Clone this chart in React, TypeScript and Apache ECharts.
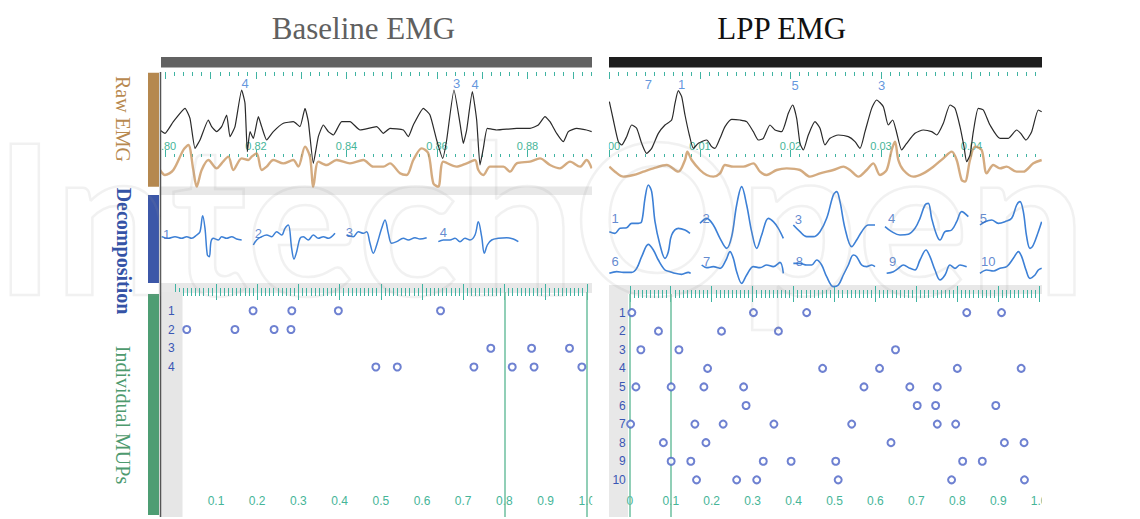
import { useEffect, useRef } from "react";
import * as echarts from "echarts";

// ---------- tick labels ----------
const baselineTimeLabels = [0.8, 0.82, 0.84, 0.86, 0.88];
const lppTimeLabels = [0.0, 0.01, 0.02, 0.03, 0.04];
const mupTimeLabels = ["0", "0.1", "0.2", "0.3", "0.4", "0.5", "0.6", "0.7", "0.8", "0.9", "1.0"];
const baselineMupIds = ["1", "2", "3", "4"];
const lppMupIds = ["1", "2", "3", "4", "5", "6", "7", "8", "9", "10"];

// ---------- raw EMG traces: [sample, deflection] (deflection grows downward) ----------
const baselineRawBlack = [[30,210],[45,220],[70,185],[105,145],[120,175],[135,265],[150,240],[175,180],[185,200],[200,215],[215,200],[230,165],[240,230],[255,200],[275,90],[285,130],[292,275],[300,215],[310,235],[325,170],[335,200],[350,240],[370,215],[400,190],[430,185],[450,200],[465,145],[475,185],[490,310],[505,230],[520,195],[535,215],[550,225],[575,185],[600,185],[630,210],[680,200],[700,220],[720,205],[760,210],[775,230],[790,195],[820,145],[840,165],[860,240],[878,295],[890,240],[912,90],[930,190],[940,250],[950,210],[967,95],[980,180],[990,315],[1000,265],[1012,205],[1040,210],[1100,205],[1140,205],[1165,195],[1185,170],[1200,185],[1220,220],[1240,245],[1255,215],[1280,205],[1310,210],[1325,215]];
const baselineRawTan = [[30,330],[45,345],[70,330],[100,270],[115,255],[130,330],[140,380],[155,330],[175,300],[200,325],[215,310],[235,290],[250,330],[275,295],[295,300],[305,290],[320,280],[335,330],[350,320],[370,300],[400,310],[430,300],[445,320],[465,260],[480,290],[490,380],[505,305],[530,315],[560,300],[600,310],[640,300],[670,320],[700,320],[720,310],[750,340],[770,345],[790,300],[815,265],[835,280],[850,370],[865,380],[880,305],[920,320],[950,310],[975,300],[985,330],[1000,345],[1020,320],[1060,320],[1080,335],[1100,310],[1140,305],[1170,295],[1200,315],[1230,325],[1260,305],[1290,320],[1310,300],[1325,325]];
const lppRawBlack = [[28,125],[40,180],[55,245],[65,255],[80,230],[95,195],[110,205],[125,250],[140,280],[155,265],[175,220],[195,195],[215,180],[225,130],[235,92],[245,110],[255,165],[268,225],[280,265],[295,250],[320,240],[335,260],[345,265],[360,235],[375,200],[395,178],[420,180],[440,185],[460,215],[475,240],[490,235],[510,195],[525,210],[545,215],[565,160],[578,135],[590,175],[600,250],[610,270],[625,225],[645,185],[660,205],[675,255],[690,235],[715,225],[745,230],[765,245],[780,265],[795,215],[815,145],[830,120],[850,140],[865,195],[878,180],[888,210],[905,270],[920,250],[945,220],[970,210],[995,215],[1010,225],[1030,190],[1050,135],[1065,145],[1080,200],[1092,260],[1100,305],[1110,285],[1120,215],[1135,145],[1150,150],[1170,195],[1200,235],[1225,235],[1250,210],[1262,220],[1278,240],[1295,215],[1315,150],[1325,155]];
const lppRawTan = [[28,320],[45,335],[70,350],[100,345],[130,335],[160,325],[200,315],[235,335],[255,300],[262,275],[275,300],[300,330],[320,345],[340,350],[360,340],[375,315],[400,320],[430,320],[460,310],[480,335],[500,345],[530,330],[560,325],[600,330],[630,350],[660,340],[700,330],[730,320],[750,330],[775,350],[800,330],[820,310],[840,345],[860,330],[875,270],[885,245],[895,300],[910,330],[940,350],[970,340],[1000,320],[1030,295],[1055,275],[1070,300],[1085,360],[1095,365],[1110,300],[1125,260],[1145,270],[1160,340],[1180,315],[1200,325],[1220,320],[1250,335],[1270,335],[1300,310],[1325,300]];

// MUP identities marked above the raw trace: [sample, deflection, id]
const baselineRawMarks = [[285, 70, "4"], [920, 70, "3"], [975, 72, "4"]];
const lppRawMarks = [[145, 72, "7"], [245, 72, "1"], [585, 75, "5"], [845, 75, "3"]];

// ---------- decomposition templates ----------
const baseTemplate1 = [[35,155],[55,160],[75,155],[95,160],[110,155],[125,160],[140,150],[150,140],[158,92],[165,130],[172,210],[178,215],[183,170],[190,160],[205,165],[215,155],[230,160],[245,155],[260,162],[275,165]];
const baseTemplate2 = [[310,180],[320,165],[335,155],[350,150],[365,155],[380,140],[395,150],[405,130],[415,120],[425,190],[432,222],[440,200],[450,160],[460,155],[475,165],[490,150],[505,160],[520,155],[535,160],[555,145]];
const baseTemplate3 = [[590,150],[610,155],[625,140],[640,145],[650,140],[660,175],[670,205],[680,180],[695,130],[705,105],[715,145],[725,175],[740,170],[760,160],[775,165],[795,158],[810,162],[830,158]];
const baseTemplate4 = [[865,170],[880,165],[900,165],[915,160],[930,170],[945,160],[960,165],[975,150],[985,110],[995,155],[1003,205],[1012,180],[1025,165],[1045,160],[1070,158],[1090,162],[1105,170]];
const baseTemplateLabels = [[50, 148, "1"], [325, 145, "2"], [598, 143, "3"], [880, 143, "4"]];

const lppTemplate1 = [[28,140],[45,145],[60,130],[80,128],[95,115],[115,115],[125,110],[135,40],[145,0],[155,20],[165,110],[180,180],[195,220],[205,200],[215,150],[235,130],[255,135],[270,145]];
const lppTemplate2 = [[300,115],[320,100],[340,120],[360,160],[380,190],[395,155],[410,60],[425,5],[440,60],[455,140],[470,190],[485,150],[505,100],[520,110],[535,130],[550,160]];
const lppTemplate3 = [[580,120],[600,140],[620,155],[640,155],[660,140],[680,100],[700,30],[710,20],[720,50],[735,130],[755,185],[770,165],[785,140],[805,120],[825,120]];
const lppTemplate4 = [[855,125],[875,140],[900,150],[925,148],[945,130],[960,100],[975,60],[985,55],[995,100],[1010,150],[1020,165],[1035,140],[1055,135],[1070,110],[1085,80],[1105,95]];
const lppTemplate5 = [[1140,120],[1155,110],[1175,105],[1195,115],[1215,110],[1235,100],[1250,60],[1260,50],[1270,80],[1280,155],[1290,190],[1300,180],[1315,140],[1325,110]];
const lppTemplate6 = [[28,265],[50,260],[70,262],[95,262],[110,250],[125,215],[145,178],[160,195],[175,225],[195,255],[210,260],[225,265],[245,268],[265,262],[272,265]];
const lppTemplate7 = [[305,240],[320,248],[340,245],[360,250],[378,225],[390,200],[400,220],[410,260],[425,295],[440,270],[460,245],[480,248],[500,240],[520,245],[540,232],[550,265]];
const lppTemplate8 = [[580,235],[600,235],[620,240],[635,240],[650,225],[665,240],[680,275],[700,305],[715,300],[730,270],[745,240],[760,210],[770,215],[785,240],[800,245],[815,240],[825,245]];
const lppTemplate9 = [[860,265],[880,260],[895,250],[910,240],[930,250],[945,255],[960,225],[978,195],[990,215],[1005,255],[1020,285],[1035,270],[1050,240],[1065,250],[1080,240],[1100,245]];
const lppTemplate10 = [[1140,265],[1160,255],[1180,258],[1200,250],[1220,245],[1240,220],[1255,200],[1265,215],[1278,255],[1290,280],[1305,270],[1315,255],[1325,250]];
const lppTemplateLabels = [[45, 100, "1"], [318, 100, "2"], [595, 103, "3"], [875, 100, "4"], [1150, 100, "5"], [45, 228, "6"], [320, 230, "7"], [598, 230, "8"], [878, 230, "9"], [1165, 228, "10"]];

// ---------- individual MUP firing times (normalised time, one list per MUP) ----------
const baselineFirings = [
  [0.19, 0.284, 0.397, 0.645],
  [0.029, 0.146, 0.241, 0.282],
  [0.767, 0.866, 0.958],
  [0.488, 0.54, 0.726, 0.819, 0.872, 0.988],
];
const lppFirings = [
  [0.005, 0.302, 0.432, 0.823, 0.908],
  [0.07, 0.224, 0.363],
  [0.027, 0.12, 0.649],
  [0.19, 0.471, 0.61, 0.8, 0.956],
  [0.015, 0.101, 0.181, 0.278, 0.572, 0.684, 0.751],
  [0.284, 0.702, 0.747, 0.894],
  [0.002, 0.159, 0.228, 0.352, 0.542, 0.751, 0.796],
  [0.082, 0.186, 0.638, 0.915, 0.963],
  [0.101, 0.149, 0.326, 0.394, 0.503, 0.813, 0.861],
  [0.163, 0.261, 0.31, 0.509, 0.786, 0.964],
];
const baselineMarkers = [0.8, 1.0];
const lppMarkers = [0, 0.1];

// ---------- styling ----------
const SERIF = '"Liberation Serif", "Times New Roman", serif';
const SANS = '"Liberation Sans", Arial, sans-serif';
const TEAL = "#3fb3a2";
const TEAL_TEXT = "#46b598";
const MUP_BLUE = "#3b7bd4";

function tickList(from: number, to: number, step: number) {
  const out: number[] = [];
  const n = Math.round((to - from) / step);
  for (let i = 0; i <= n; i++) out.push(+(from + i * step).toFixed(5));
  return out;
}

function rulerAxis(gridIndex: number, min: number, max: number, position: string, ticks: number[], length: number, labels?: number[]) {
  return {
    type: "value", gridIndex, min, max, position,
    axisLine: { show: false }, splitLine: { show: false },
    axisTick: { show: true, inside: true, length, customValues: ticks, lineStyle: { color: TEAL, width: 1 } },
    axisLabel: labels
      ? { show: true, inside: true, customValues: labels, formatter: (v: number) => v.toFixed(2), color: TEAL_TEXT, fontSize: 11, fontFamily: SANS, margin: 6 }
      : { show: false },
  };
}

function hiddenAxis(gridIndex: number, min: number, max: number, inverse = false) {
  return { type: "value", gridIndex, min, max, inverse, show: false, splitLine: { show: false } };
}

function mupXAxis(gridIndex: number, position: string, withLabels: boolean, showZero: boolean) {
  return {
    type: "value", gridIndex, min: 0, max: 1, interval: 0.1, position, z: 0,
    axisLine: { show: false }, splitLine: { show: false }, minorSplitLine: { show: false },
    axisTick: { show: true, inside: true, length: 8, lineStyle: { color: TEAL, width: 1 } },
    minorTick: { show: true, splitNumber: 10, length: 4, lineStyle: { color: TEAL, width: 1 } },
    axisLabel: withLabels
      ? {
          show: true, inside: true, margin: 10, color: TEAL_TEXT, fontSize: 12, fontFamily: SANS,
          formatter: (v: number) => {
            const i = Math.round(v * 10);
            if (i === 0 && !showZero) return "";
            return mupTimeLabels[i] ?? "";
          },
        }
      : { show: false },
  };
}

function mupYAxis(gridIndex: number, ids: string[], margin: number) {
  return {
    type: "value", gridIndex, min: 0, max: 12, interval: 1, inverse: true, z: 3,
    axisLine: { show: false }, axisTick: { show: false }, splitLine: { show: false },
    axisLabel: { color: "#3a56b4", fontSize: 12, fontFamily: SANS, margin, formatter: (v: number) => ids[v - 1] ?? "" },
  };
}

function lineSeries(x: number, y: number, data: number[][], color: string, width: number, smooth: number, opacity = 1, z = 3) {
  return {
    type: "line", xAxisIndex: x, yAxisIndex: y, data, symbol: "none", showSymbol: false, smooth,
    lineStyle: { color, width, opacity }, z, silent: true,
  };
}

function labelSeries(x: number, y: number, marks: (number | string)[][], color: string, size: number) {
  return {
    type: "scatter", xAxisIndex: x, yAxisIndex: y, symbolSize: 1, silent: true, z: 5,
    itemStyle: { color: "rgba(0,0,0,0)" },
    label: { show: true, position: "inside", formatter: "{b}", color, fontSize: size, fontFamily: SANS },
    data: marks.map((m) => ({ name: String(m[2]), value: [m[0], m[1]] })),
  };
}

function firingSeries(x: number, y: number, firings: number[][], markers: number[]) {
  const data: number[][] = [];
  firings.forEach((row, i) => row.forEach((t) => data.push([t, i + 1])));
  return {
    type: "scatter", xAxisIndex: x, yAxisIndex: y, data, symbol: "emptyCircle", symbolSize: 7, z: 5,
    itemStyle: { color: "#4a62c6", borderWidth: 1.6 },
    markLine: {
      silent: true, symbol: ["none", "none"], label: { show: false },
      lineStyle: { color: "#6cbf9f", width: 1.5, type: "solid" },
      data: markers.map((m) => ({ xAxis: m })),
    },
  };
}

const App = () => {
  const ref = useRef<HTMLDivElement>(null);
  useEffect(() => {
    if (!ref.current) return;
    const chart = echarts.init(ref.current, undefined, { renderer: "svg" });

    const bMin = 0.799006, bMax = 0.894254;
    const lMin = -0.000055, lMax = 0.04779;

    const grid = [
      { left: 161, top: 72, width: 431, height: 115 },
      { left: 161, top: 72, width: 431, height: 85 },
      { left: 609, top: 72, width: 433, height: 113 },
      { left: 609, top: 72, width: 433, height: 85 },
      { left: 161, top: 195, width: 431, height: 88 },
      { left: 609, top: 182, width: 433, height: 106 },
      { left: 174.8, top: 292, width: 412, height: 225 },
      { left: 629.8, top: 294, width: 409.4, height: 223 },
    ];

    const xAxis = [
      hiddenAxis(0, 33, 1326), // 0
      rulerAxis(0, bMin, bMax, "top", tickList(0.8, 0.89, 0.01), 7), // 1
      rulerAxis(0, bMin, bMax, "top", tickList(0.8, 0.894, 0.002), 4), // 2
      rulerAxis(1, bMin, bMax, "bottom", tickList(0.8, 0.88, 0.02), 7, baselineTimeLabels), // 3
      rulerAxis(1, bMin, bMax, "bottom", tickList(0.8, 0.894, 0.002), 3), // 4
      hiddenAxis(2, 27, 1326), // 5
      rulerAxis(2, lMin, lMax, "top", tickList(0, 0.04, 0.01), 7), // 6
      rulerAxis(2, lMin, lMax, "top", tickList(0, 0.047, 0.001), 4), // 7
      rulerAxis(3, lMin, lMax, "bottom", tickList(0, 0.04, 0.01), 7, lppTimeLabels), // 8
      rulerAxis(3, lMin, lMax, "bottom", tickList(0, 0.047, 0.001), 3), // 9
      hiddenAxis(4, 33, 1326), // 10
      hiddenAxis(5, 27, 1326), // 11
      mupXAxis(6, "bottom", true, false), // 12
      mupXAxis(6, "top", false, false), // 13
      mupXAxis(7, "bottom", true, true), // 14
      mupXAxis(7, "top", false, true), // 15
    ];

    const yAxis = [
      hiddenAxis(0, 36, 381, true),
      hiddenAxis(1, 0, 1),
      hiddenAxis(2, 36, 375, true),
      hiddenAxis(3, 0, 1),
      hiddenAxis(4, 30, 294, true),
      hiddenAxis(5, -9, 309, true),
      mupYAxis(6, baselineMupIds, 0),
      mupYAxis(7, lppMupIds, 4),
    ];

    const tan = "#c99660";
    const series: any[] = [
      lineSeries(0, 0, baselineRawTan, tan, 2.4, 0.3, 0.8, 3),
      lineSeries(0, 0, baselineRawBlack, "#2a2a2a", 1.2, 0.15, 1, 4),
      labelSeries(0, 0, baselineRawMarks, MUP_BLUE, 13),
      lineSeries(5, 2, lppRawTan, tan, 2.4, 0.3, 0.8, 3),
      lineSeries(5, 2, lppRawBlack, "#2a2a2a", 1.2, 0.2, 1, 4),
      labelSeries(5, 2, lppRawMarks, MUP_BLUE, 13),
      ...[baseTemplate1, baseTemplate2, baseTemplate3, baseTemplate4].map((d) => lineSeries(10, 4, d, "#3d80d6", 1.5, 0.35)),
      labelSeries(10, 4, baseTemplateLabels, "#3a6cc4", 13),
      ...[lppTemplate1, lppTemplate2, lppTemplate3, lppTemplate4, lppTemplate5, lppTemplate6, lppTemplate7, lppTemplate8, lppTemplate9, lppTemplate10].map((d) => lineSeries(11, 5, d, "#3d80d6", 1.6, 0.35)),
      labelSeries(11, 5, lppTemplateLabels, "#3a6cc4", 13),
      firingSeries(12, 6, baselineFirings, baselineMarkers),
      firingSeries(14, 7, lppFirings, lppMarkers),
    ];

    const bg = (x: number, y: number, w: number, h: number, fill: string, z = -5) => ({
      type: "rect", silent: true, z, shape: { x, y, width: w, height: h }, style: { fill },
    });
    const sideLabel = (text: string, x: number, y: number, color: string, weight: string) => ({
      type: "text", silent: true, z: 45, x, y, rotation: -Math.PI / 2,
      style: { text, fill: color, fontSize: 20, fontFamily: SERIF, fontWeight: weight, textAlign: "center", textVerticalAlign: "middle" },
    });

    const graphic = [
      // grey separators / bands
      bg(161, 186.5, 431, 8.5, "#e8e8e8"),
      bg(161, 283, 431, 10, "#e8e8e8"),
      bg(609, 285, 433, 9, "#e8e8e8"),
      bg(161, 292, 21.5, 225, "#e6e6e6", 1),
      bg(609, 294, 19, 223, "#e8e8e8"),
      // covers clipping overflow outside panels
      bg(592.3, 68, 16.5, 451, "#ffffff", 40),
      bg(136, 68, 24.5, 451, "#ffffff", 40),
      bg(1042, 68, 98, 451, "#ffffff", 40),
      // header bars
      bg(161, 57, 431, 10.5, "#626262", 41),
      bg(609, 57, 433, 10.5, "#1e1e1e", 41),
      // colour bars
      bg(148, 72.7, 11, 114, "#b5884f", 41),
      bg(148, 195, 11, 88, "#3c57a8", 41),
      bg(148, 294, 11, 221, "#4e9d73", 41),
      {
        type: "line", silent: true, z: 42,
        shape: { x1: 160.5, y1: 72, x2: 160.5, y2: 517 },
        style: { stroke: "#555555", lineWidth: 1.5 },
      },
      // titles
      {
        type: "text", silent: true, z: 45, x: 363.5, y: 28,
        style: { text: "Baseline EMG", fill: "#606060", fontSize: 31, fontFamily: SERIF, textAlign: "center", textVerticalAlign: "middle" },
      },
      {
        type: "text", silent: true, z: 45, x: 781.7, y: 28,
        style: { text: "LPP EMG", fill: "#111111", fontSize: 31, fontFamily: SERIF, textAlign: "center", textVerticalAlign: "middle" },
      },
      sideLabel("Raw EMG", 123, 119, "#b8894f", "normal"),
      sideLabel("Decomposition", 124, 251, "#3553a6", "bold"),
      sideLabel("Individual MUPs", 123, 415, "#4e9a6e", "normal"),
      // watermark
      {
        type: "text", silent: true, z: 100, x: -6, y: 214,
        style: {
          text: "IntechOpen", fontSize: 208, fontFamily: "Lato", fontWeight: "bold",
          fill: "rgba(0,0,0,0)", stroke: "rgba(150,150,150,0.13)", lineWidth: 2.5,
          textAlign: "left", textVerticalAlign: "middle",
        },
      },
    ];

    chart.setOption({
      animation: false,
      backgroundColor: "#ffffff",
      grid,
      xAxis,
      yAxis,
      series,
      graphic,
    });
    return () => chart.dispose();
  }, []);
  return <div ref={ref} style={{ position: "fixed", left: 0, top: 0, width: 1140, height: 519 }} />;
};

export default App;
